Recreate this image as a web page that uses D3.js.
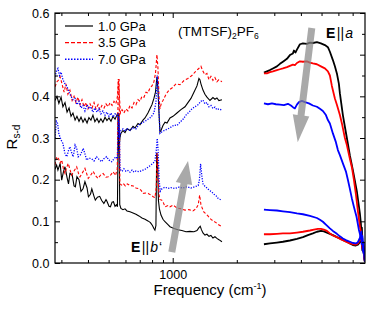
<!DOCTYPE html>
<html>
<head>
<meta charset="utf-8">
<script src="https://cdn.jsdelivr.net/npm/d3@7"></script>
<style>
  body { margin: 0; background: #fff; }
  svg { font-family: "Liberation Sans", Arial, sans-serif; }
</style>
</head>
<body>
<div id="chart"></div>
<script>
// pressures in the legend
var pressures = ["1.0 GPa", "3.5 GPa", "7.0 GPa"];

// E||a, far-IR part [frequency cm-1, R_sd]
var ea10Far = [[280,.39],[286,.40],[292,.383],[299,.398],[305,.375],[312,.385],[319,.362],[326,.372],[333,.352],[340,.36],[348,.343],[355,.352],[363,.34],[371,.35],[379,.338],[387,.347],[396,.336],[404,.349],[413,.343],[422,.355],[431,.339],[441,.347],[450,.337],[460,.346],[470,.338],[481,.35],[491,.342],[502,.348],[513,.34],[524,.352],[536,.345],[547,.355],[553,.36],[559,.27],[565,.30],[571,.311],[584,.318],[597,.313],[610,.322],[630,.318],[651,.328],[665,.324],[687,.335],[702,.332],[725,.343],[741,.348],[765,.36],[782,.37],[799,.38],[816,.395],[830,.41],[843,.447],[852,.42],[862,.36],[871,.315],[881,.318],[900,.33],[920,.338],[940,.336],[971,.348],[1003,.352],[1047,.36],[1093,.368],[1142,.375],[1179,.385],[1218,.395],[1258,.41],[1300,.425],[1328,.443],[1342,.44],[1357,.43],[1387,.415],[1417,.405],[1448,.398],[1496,.39],[1545,.397],[1579,.393],[1613,.396],[1648,.39],[1703,.392]];
var ea35Far = [[280,.423],[286,.435],[292,.44],[296,.447],[302,.43],[309,.41],[315,.43],[322,.405],[329,.415],[337,.39],[344,.40],[351,.385],[359,.398],[367,.38],[375,.392],[383,.375],[392,.385],[400,.37],[409,.382],[418,.372],[427,.385],[436,.37],[446,.38],[455,.368],[465,.378],[476,.372],[486,.382],[497,.375],[508,.385],[519,.378],[530,.388],[541,.382],[550,.40],[556,.44],[562,.40],[568,.36],[578,.368],[590,.36],[603,.37],[616,.365],[630,.378],[644,.372],[658,.385],[672,.38],[687,.392],[702,.388],[717,.40],[733,.398],[749,.41],[765,.408],[782,.42],[799,.425],[816,.435],[830,.455],[843,.50],[852,.47],[862,.40],[871,.37],[885,.384],[900,.39],[930,.405],[961,.415],[992,.42],[1036,.43],[1082,.428],[1130,.438],[1179,.443],[1231,.45],[1272,.458],[1314,.465],[1357,.472],[1387,.46],[1417,.452],[1448,.455],[1480,.44],[1512,.448],[1545,.438],[1579,.445],[1613,.435],[1648,.44],[1703,.435]];
var ea70Far = [[280,.447],[285,.462],[289,.467],[294,.45],[299,.458],[305,.44],[312,.43],[319,.423],[326,.41],[333,.40],[340,.392],[348,.395],[355,.38],[363,.388],[371,.372],[379,.378],[387,.365],[396,.38],[404,.37],[413,.375],[422,.362],[431,.372],[441,.362],[450,.37],[460,.358],[470,.365],[481,.355],[491,.362],[502,.352],[513,.36],[524,.35],[536,.358],[547,.352],[556,.36],[562,.30],[571,.318],[584,.322],[597,.316],[610,.323],[630,.318],[651,.325],[672,.322],[694,.332],[717,.336],[741,.34],[765,.345],[790,.35],[816,.36],[834,.385],[846,.45],[857,.40],[871,.311],[890,.315],[920,.319],[950,.322],[981,.326],[1014,.331],[1047,.33],[1082,.338],[1118,.345],[1154,.355],[1192,.362],[1231,.37],[1272,.375],[1314,.38],[1357,.388],[1387,.391],[1417,.382],[1448,.385],[1480,.375],[1512,.378],[1545,.371],[1579,.374],[1613,.368],[1648,.37],[1703,.367]];

// E||b', far-IR part
var eb10Far = [[280,.225],[285,.235],[289,.223],[296,.239],[301,.199],[307,.22],[312,.231],[319,.205],[324,.19],[329,.215],[337,.212],[344,.185],[349,.183],[355,.207],[363,.20],[371,.172],[379,.178],[387,.195],[396,.18],[402,.159],[411,.165],[417,.178],[427,.16],[433,.151],[443,.158],[454,.16],[464,.15],[475,.143],[486,.152],[491,.148],[502,.136],[510,.135],[519,.146],[527,.147],[536,.136],[544,.14],[550,.135],[555,.34],[559,.36],[564,.14],[571,.131],[584,.128],[597,.13],[610,.125],[630,.123],[651,.12],[672,.117],[694,.113],[717,.108],[741,.105],[765,.101],[786,.097],[803,.09],[816,.083],[825,.079],[834,.09],[841,.264],[848,.25],[857,.15],[866,.13],[881,.115],[900,.105],[920,.099],[950,.092],[971,.087],[1014,.083],[1058,.08],[1104,.078],[1154,.075],[1205,.076],[1258,.075],[1300,.078],[1328,.085],[1347,.088],[1364,.08],[1387,.072],[1417,.067],[1448,.069],[1480,.064],[1512,.066],[1545,.06],[1579,.063],[1613,.059],[1648,.056],[1703,.051]];
var eb35Far = [[280,.235],[285,.255],[291,.25],[296,.24],[301,.247],[307,.225],[312,.215],[317,.228],[323,.239],[329,.225],[335,.211],[341,.218],[348,.225],[354,.231],[361,.215],[367,.207],[375,.215],[387,.227],[394,.215],[401,.203],[411,.21],[423,.22],[433,.21],[446,.203],[460,.212],[471,.215],[486,.206],[498,.207],[513,.212],[525,.219],[539,.21],[549,.227],[555,.44],[560,.44],[565,.19],[575,.187],[585,.191],[599,.185],[612,.19],[630,.186],[653,.185],[672,.18],[688,.179],[709,.175],[727,.167],[749,.168],[767,.167],[790,.163],[810,.159],[825,.157],[837,.18],[845,.265],[852,.22],[862,.165],[871,.152],[887,.151],[900,.147],[920,.135],[950,.138],[971,.135],[1006,.139],[1047,.132],[1093,.13],[1142,.127],[1192,.128],[1244,.125],[1286,.13],[1318,.14],[1338,.163],[1357,.14],[1380,.13],[1402,.122],[1433,.118],[1464,.113],[1496,.107],[1528,.103],[1562,.10],[1596,.097],[1630,.093],[1666,.09],[1703,.087]];
var eb70Far = [[280,.30],[284,.34],[288,.335],[292,.31],[299,.295],[305,.287],[312,.262],[318,.255],[324,.27],[329,.279],[335,.265],[341,.255],[348,.283],[354,.275],[360,.255],[369,.26],[380,.275],[387,.262],[394,.247],[404,.252],[416,.25],[427,.245],[439,.255],[450,.249],[463,.243],[475,.25],[489,.255],[502,.247],[517,.243],[530,.25],[541,.255],[550,.25],[556,.35],[561,.33],[566,.225],[578,.22],[590,.226],[603,.22],[616,.222],[630,.218],[644,.223],[658,.218],[672,.221],[694,.219],[717,.222],[741,.225],[765,.23],[790,.235],[810,.24],[825,.245],[837,.27],[846,.299],[854,.27],[863,.20],[874,.172],[890,.178],[920,.182],[950,.179],[981,.181],[1025,.179],[1070,.182],[1118,.18],[1166,.183],[1218,.18],[1272,.183],[1318,.186],[1335,.20],[1352,.238],[1369,.21],[1387,.19],[1417,.184],[1448,.18],[1480,.175],[1522,.171],[1562,.165],[1596,.162],[1635,.155],[1666,.153],[1703,.151]];

// E||a, mid-IR part
var ea10Mid = [[2682,.457],[2770,.46],[2861,.463],[2956,.467],[3086,.472],[3188,.478],[3293,.483],[3439,.49],[3552,.499],[3669,.503],[3710,.51],[3770,.505],[3831,.512],[3958,.525],[4088,.527],[4268,.526],[4409,.529],[4554,.528],[4755,.53],[4966,.527],[5185,.523],[5356,.518],[5473,.507],[5653,.487],[5777,.472],[5903,.455],[6032,.43],[6098,.407],[6298,.355],[6436,.327],[6576,.30],[6793,.258],[7017,.223],[7326,.172],[7568,.119],[7650,.095],[7690,.075],[7734,.085],[7775,.055],[7818,.045],[7860,.05],[7903,.02],[7950,.025],[7990,.005]];
var ea35Mid = [[2682,.455],[2770,.455],[2861,.458],[2956,.46],[3086,.463],[3188,.465],[3293,.467],[3439,.47],[3552,.473],[3669,.476],[3749,.475],[3831,.48],[3958,.484],[4088,.483],[4268,.484],[4409,.481],[4554,.479],[4755,.477],[4966,.472],[5185,.467],[5356,.46],[5473,.45],[5591,.425],[5777,.395],[5903,.38],[6098,.355],[6232,.335],[6436,.30],[6576,.283],[6793,.25],[6941,.23],[7093,.20],[7250,.165],[7408,.125],[7568,.088],[7690,.07],[7734,.055],[7818,.045],[7860,.035],[7903,.03],[7950,.015],[7990,.005]];
var ea70Mid = [[2682,.383],[2800,.381],[2924,.383],[3052,.381],[3188,.38],[3329,.379],[3476,.382],[3590,.378],[3669,.374],[3749,.371],[3831,.38],[3915,.386],[4044,.389],[4178,.386],[4362,.383],[4554,.378],[4755,.375],[4914,.37],[5074,.365],[5242,.355],[5356,.343],[5473,.335],[5653,.311],[5840,.29],[5967,.271],[6098,.259],[6298,.239],[6506,.22],[6648,.20],[6793,.178],[6941,.155],[7094,.135],[7300,.111],[7486,.08],[7700,.055],[7775,.06],[7860,.025],[7930,.03],[7990,.005]];

// E||b', mid-IR part
var eb10Mid = [[2682,.045],[2861,.047],[3086,.049],[3293,.051],[3552,.054],[3831,.058],[4088,.062],[4315,.067],[4554,.071],[4755,.075],[4966,.077],[5129,.076],[5299,.073],[5473,.07],[5653,.067],[5903,.062],[6098,.059],[6298,.055],[6576,.051],[6793,.047],[7017,.043],[7249,.042],[7408,.044],[7568,.05],[7690,.055],[7775,.03],[7860,.035],[7930,.012],[7990,.003]];
var eb35Mid = [[2682,.069],[2861,.069],[3086,.07],[3293,.071],[3552,.071],[3831,.073],[4088,.075],[4409,.078],[4604,.08],[4808,.082],[4966,.082],[5129,.08],[5299,.077],[5473,.071],[5653,.066],[5903,.062],[6098,.058],[6298,.055],[6506,.051],[6793,.047],[7017,.045],[7249,.044],[7408,.047],[7568,.055],[7690,.06],[7775,.035],[7860,.04],[7930,.015],[7990,.003]];
var eb70Mid = [[2682,.128],[2861,.127],[3086,.126],[3293,.124],[3552,.122],[3831,.119],[4088,.117],[4409,.113],[4755,.108],[4914,.104],[5074,.099],[5242,.092],[5473,.083],[5653,.077],[5903,.07],[6098,.064],[6298,.059],[6506,.055],[6793,.051],[7017,.048],[7249,.047],[7408,.05],[7568,.06],[7690,.075],[7730,.045],[7775,.065],[7820,.03],[7860,.05],[7930,.02],[7990,.003]];

// axis ticks
var yMajor = [0.0, 0.1, 0.2, 0.3, 0.4, 0.5, 0.6];
var yMinor = [0.05, 0.15, 0.25, 0.35, 0.45, 0.55];
var xMajor = [1000];
var xMinor = [300, 400, 500, 600, 700, 800, 900, 2000, 3000, 4000, 5000, 6000, 7000];

// arrows drawn in data coordinates [from, to]
var arrowA = [[4500, 0.564], [3865, 0.29]];
var arrowB = [[990, 0.026], [1180, 0.245]];

var svgWidth = 374;
var svgHeight = 310;
var margin = {top: 13, right: 9, bottom: 47, left: 55};
var chartWidth = svgWidth - margin.left - margin.right;
var chartHeight = svgHeight - margin.top - margin.bottom;

var svg = d3.select("#chart").append("svg")
  .attr("width", svgWidth)
  .attr("height", svgHeight);

var chartGroup = svg.append("g")
  .attr("transform", `translate(${margin.left}, ${margin.top})`);

var xScale = d3.scaleLog().domain([280, 8000]).range([0, chartWidth]);
var yScale = d3.scaleLinear().domain([0, 0.6]).range([chartHeight, 0]);

svg.append("defs").append("clipPath").attr("id", "clip")
  .append("rect").attr("width", chartWidth).attr("height", chartHeight);

var line = d3.line()
  .x(d => xScale(d[0]))
  .y(d => yScale(d[1]));

var styles = [
  {color: "#000000", dash: null, w: 1.1},
  {color: "#ff0000", dash: "3,2", w: 1.1},
  {color: "#0000ff", dash: "1.2,1.4", w: 1.3}
];

var farSets = [[ea10Far, eb10Far], [ea35Far, eb35Far], [ea70Far, eb70Far]];
var midSets = [[ea10Mid, eb10Mid], [ea35Mid, eb35Mid], [ea70Mid, eb70Mid]];

var plot = chartGroup.append("g").attr("clip-path", "url(#clip)");

styles.forEach(function(s, i) {
  farSets[i].forEach(function(data) {
    plot.append("path")
      .datum(data)
      .attr("d", line)
      .attr("fill", "none")
      .attr("stroke", s.color)
      .attr("stroke-width", s.w)
      .attr("stroke-dasharray", s.dash);
  });
  // mid-IR data are dense and noisy, they look like thick solid lines
  midSets[i].forEach(function(data) {
    plot.append("path")
      .datum(data)
      .attr("d", line)
      .attr("fill", "none")
      .attr("stroke", s.color)
      .attr("stroke-width", 1.8)
      .attr("stroke-linejoin", "round");
  });
});

// gray arrows
function arrowPath(a, hl) {
  var p0 = [xScale(a[0][0]), yScale(a[0][1])];
  var p1 = [xScale(a[1][0]), yScale(a[1][1])];
  var dx = p1[0] - p0[0], dy = p1[1] - p0[1];
  var len = Math.sqrt(dx * dx + dy * dy);
  var ux = dx / len, uy = dy / len, px = -uy, py = ux;
  var sw = 3.5, hw = 8.3;
  var bx = p1[0] - ux * hl, by = p1[1] - uy * hl;
  var pts = [
    [p0[0] + px * sw, p0[1] + py * sw],
    [bx + px * sw, by + py * sw],
    [bx + px * hw, by + py * hw],
    p1,
    [bx - px * hw, by - py * hw],
    [bx - px * sw, by - py * sw],
    [p0[0] - px * sw, p0[1] - py * sw]
  ];
  return "M" + pts.join("L") + "Z";
}

chartGroup.append("path").attr("d", arrowPath(arrowA, 27))
  .attr("fill", "#888").attr("opacity", 0.72);
chartGroup.append("path").attr("d", arrowPath(arrowB, 23))
  .attr("fill", "#888").attr("opacity", 0.72);

// axes, ticks pointing inward
function styleAxis(g) {
  g.select(".domain").remove();
  g.selectAll("line").attr("stroke", "#000").attr("stroke-width", 1);
  g.selectAll("text").attr("font-size", "12.5px").attr("fill", "#000")
    .attr("font-family", "Liberation Sans, Arial, sans-serif");
}

chartGroup.append("g")
  .call(d3.axisLeft(yScale).tickValues(yMajor).tickSize(-5).tickPadding(5.5).tickFormat(d3.format(".1f")))
  .call(styleAxis);
chartGroup.append("g")
  .call(d3.axisLeft(yScale).tickValues(yMinor).tickSize(-3).tickFormat(""))
  .call(styleAxis);
chartGroup.append("g").attr("transform", `translate(${chartWidth}, 0)`)
  .call(d3.axisRight(yScale).tickValues(yMajor).tickSize(-5).tickFormat(""))
  .call(styleAxis);
chartGroup.append("g").attr("transform", `translate(${chartWidth}, 0)`)
  .call(d3.axisRight(yScale).tickValues(yMinor).tickSize(-3).tickFormat(""))
  .call(styleAxis);

chartGroup.append("g").attr("transform", `translate(0, ${chartHeight})`)
  .call(d3.axisBottom(xScale).tickValues(xMajor).tickSize(-5).tickPadding(7).tickFormat(d3.format("d")))
  .call(styleAxis);
chartGroup.append("g").attr("transform", `translate(0, ${chartHeight})`)
  .call(d3.axisBottom(xScale).tickValues(xMinor).tickSize(-3).tickFormat(""))
  .call(styleAxis);
chartGroup.append("g")
  .call(d3.axisTop(xScale).tickValues(xMajor).tickSize(-5).tickFormat(""))
  .call(styleAxis);
chartGroup.append("g")
  .call(d3.axisTop(xScale).tickValues(xMinor).tickSize(-3).tickFormat(""))
  .call(styleAxis);

// frame
chartGroup.append("rect")
  .attr("width", chartWidth)
  .attr("height", chartHeight)
  .attr("fill", "none")
  .attr("stroke", "#000")
  .attr("stroke-width", 1.2);

// axis labels
var xLabel = svg.append("text")
  .attr("x", 210)
  .attr("y", 295)
  .attr("text-anchor", "middle")
  .attr("font-size", "15px");
xLabel.append("tspan").text("Frequency (cm");
xLabel.append("tspan").attr("font-size", "9px").attr("dy", -6).text("-1");
xLabel.append("tspan").attr("dy", 6).text(")");

var yLabel = svg.append("text")
  .attr("transform", "rotate(-90)")
  .attr("x", -137)
  .attr("y", 17)
  .attr("text-anchor", "middle")
  .attr("font-size", "15px");
yLabel.append("tspan").text("R");
yLabel.append("tspan").attr("font-size", "10px").attr("dy", 3).text("s-d");

// legend
var legend = chartGroup.append("g");
styles.forEach(function(s, i) {
  var ly = 13 + i * 16.6;
  legend.append("line")
    .attr("x1", 10).attr("x2", 38)
    .attr("y1", ly).attr("y2", ly)
    .attr("stroke", s.color)
    .attr("stroke-width", i === 2 ? 1.4 : 1.2)
    .attr("stroke-dasharray", i === 0 ? null : (i === 1 ? "4,2" : "1.5,1.5"));
  legend.append("text")
    .attr("x", 43)
    .attr("y", ly + 4.6)
    .attr("font-size", "13px")
    .text(pressures[i]);
});

// compound name
var title = svg.append("text")
  .attr("x", 178)
  .attr("y", 35.5)
  .attr("font-size", "13.5px");
title.append("tspan").text("(TMTSF)");
title.append("tspan").attr("font-size", "8.5px").attr("dy", 3).text("2");
title.append("tspan").attr("dy", -3).text("PF");
title.append("tspan").attr("font-size", "8.5px").attr("dy", 3).text("6");

// polarization labels
function polLabel(x, y, letter, mark) {
  var t = svg.append("text").attr("x", x).attr("y", y).attr("font-size", "14px");
  t.append("tspan").attr("font-weight", "bold").text("E");
  t.append("tspan").attr("dx", 1.5).text("||");
  t.append("tspan").attr("dx", 1).attr("font-style", "italic").text(letter);
  if (mark) t.append("tspan").attr("dx", 1).text(mark);
}
polLabel(326, 37.5, "a", null);
polLabel(131, 251.5, "b", "\u2018");
</script>
</body>
</html>
